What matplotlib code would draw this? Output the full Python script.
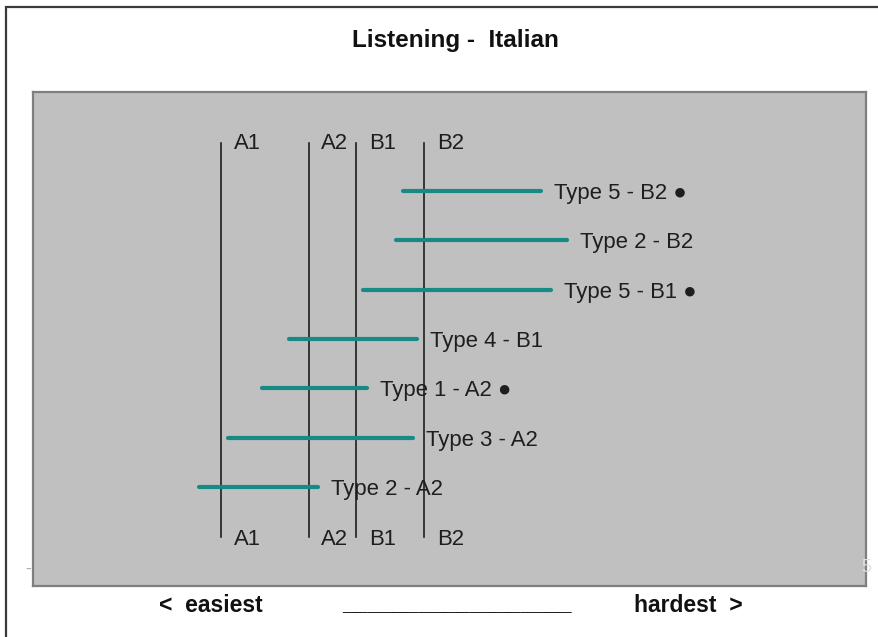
import matplotlib.pyplot as plt
from matplotlib.patches import Rectangle

plt.rcParams['font.family'] = ['Liberation Sans', 'DejaVu Sans']

# CEFR level boundaries (difficulty scale)
levels = ['A1', 'A2', 'B1', 'B2']
level_pos = [-1.53, -0.85, -0.48, 0.05]

# item-type difficulty ranges, top to bottom
item_labels = ['Type 5 - B2 \u25cf', 'Type 2 - B2', 'Type 5 - B1 \u25cf', 'Type 4 - B1',
               'Type 1 - A2 \u25cf', 'Type 3 - A2', 'Type 2 - A2']
range_lo = [-0.115, -0.165, -0.425, -1.005, -1.215, -1.475, -1.705]
range_hi = [0.965, 1.165, 1.045, -0.005, -0.395, -0.035, -0.775]

TEAL = '#178a84'
INK = '#1e1e1e'

fig = plt.figure(figsize=(8.79, 6.37), dpi=100)
fig.patch.set_facecolor('white')

# outer frame (runs off the right and bottom edge)
fig.patches.append(Rectangle((6 / 879, -0.05), 1.2, 1 - 7 / 637 + 0.05,
                             transform=fig.transFigure, fill=False,
                             edgecolor='#3a3a3a', linewidth=1.6))

ax = fig.add_axes([33 / 879, 51 / 637, 833 / 879, 494 / 637])
ax.set_facecolor('#c0c0c0')
for s in ax.spines.values():
    s.set_edgecolor('#7f7f7f')
    s.set_linewidth(1.6)
ax.set_xlim(-3, 3.5)
ax.set_ylim(9, -1)
ax.set_xticks([])
ax.set_yticks([])

top_row, bottom_row = 0, len(item_labels) + 1
for name, x in zip(levels, level_pos):
    ax.plot([x, x], [top_row + 0.03, bottom_row], color=INK, lw=1.2, zorder=2)
    for yy in (top_row, bottom_row):
        ax.text(x + 0.1, yy, name, fontsize=15.9, color=INK,
                va='center_baseline', ha='left')

for i, (lab, lo, hi) in enumerate(zip(item_labels, range_lo, range_hi)):
    y = i + 1
    ax.plot([lo, hi], [y, y], color=TEAL, lw=3.0, solid_capstyle='round', zorder=3)
    ax.text(hi + 0.1, y, lab, fontsize=15.9, color=INK, va='center_baseline',
            ha='left', zorder=4)

fig.text(455 / 879, 1 - 40 / 637, 'Listening -  Italian', fontsize=17.5,
         fontweight='bold', ha='center', va='center', color='#111111')

# bottom scale caption
fig.text(159 / 879, 1 - 606 / 637, '<  easiest', fontsize=16.5, fontweight='bold',
         ha='left', va='center', color='#111111')
fig.text(457 / 879, 1 - 604 / 637, '_' * 18, fontsize=16.5, fontweight='bold',
         ha='center', va='center', color='#111111')
fig.text(743 / 879, 1 - 606 / 637, 'hardest  >', fontsize=16.5, fontweight='bold',
         ha='right', va='center', color='#111111')

# faint axis end labels peeking out at the plot edges
fig.text(28 / 879, 1 - 569 / 637, '-', fontsize=13, color='#b0b0b0',
         ha='center', va='center')
fig.text(866 / 879, 1 - 568 / 637, '5', fontsize=13, color='#e2e2e2',
         ha='center', va='center', zorder=5)

fig.savefig('out.png', dpi=100, facecolor='white')
